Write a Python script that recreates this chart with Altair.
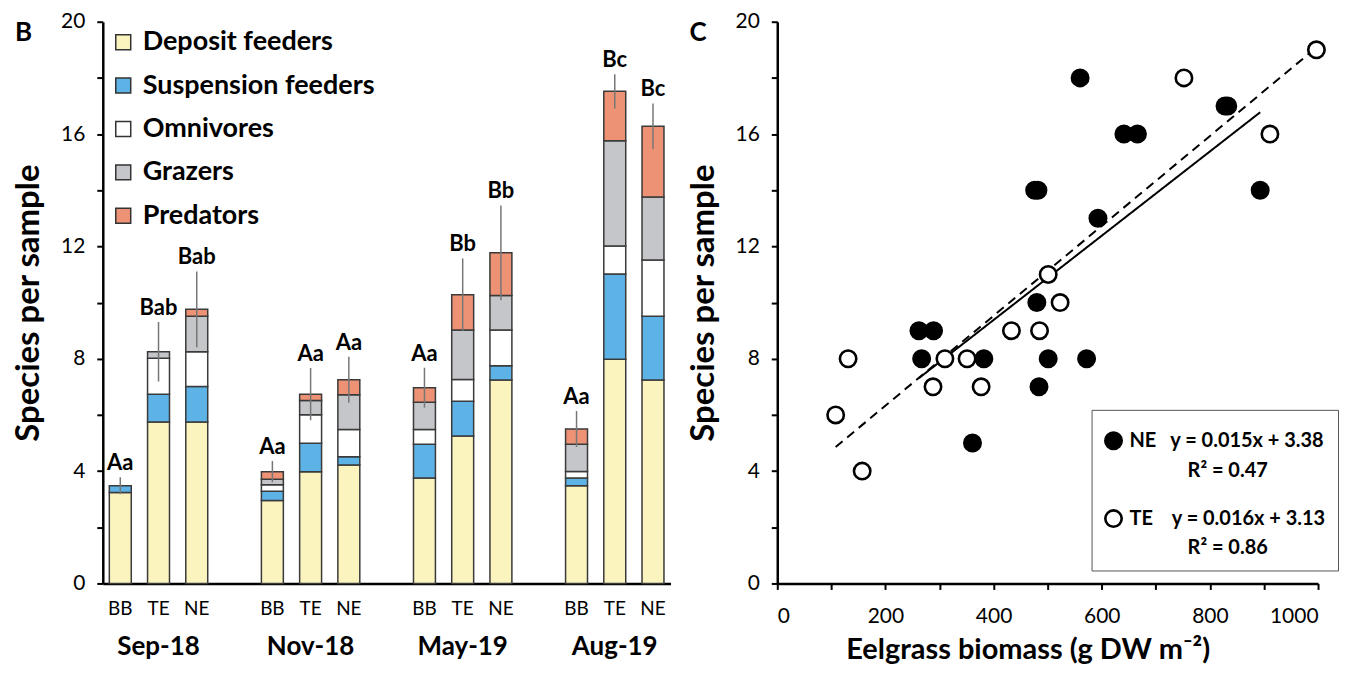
import altair as alt
import pandas as pd

FONT = "Lato"

# ---------------- Panel B data ----------------
months = ["Sep-18", "Nov-18", "May-19", "Aug-19"]
sites = ["BB", "TE", "NE"]
groups = ["Deposit feeders", "Suspension feeders", "Omnivores", "Grazers", "Predators"]
group_colors = ["#FCF4BE", "#5DB3E6", "#FFFFFF", "#C5C6CA", "#EE9275"]

# bars in order: Sep BB, Sep TE, Sep NE, Nov BB, ..., Aug NE
deposit =    [3.24, 5.75, 5.75, 2.95, 3.98, 4.22, 3.75, 5.25, 7.24, 3.48, 7.98, 7.24]
suspension = [0.24, 0.99, 1.26, 0.33, 1.01, 0.29, 1.21, 1.24, 0.51, 0.27, 3.04, 2.27]
omnivores =  [0.00, 1.28, 1.24, 0.23, 1.02, 0.97, 0.52, 0.77, 1.27, 0.24, 0.99, 2.01]
grazers =    [0.00, 0.23, 1.26, 0.20, 0.50, 1.24, 0.97, 1.76, 1.23, 0.97, 3.75, 2.24]
predators =  [0.00, 0.00, 0.25, 0.27, 0.23, 0.53, 0.52, 1.26, 1.52, 0.54, 1.76, 2.52]
errors =     [0.30, 1.06, 1.35, 0.38, 0.93, 0.82, 0.71, 1.29, 1.69, 0.64, 0.61, 0.81]
letters = ["Aa", "Bab", "Bab", "Aa", "Aa", "Aa", "Aa", "Bb", "Bb", "Aa", "Bc", "Bc"]

# ---------------- Panel C data ----------------
ne_biomass = [560, 641, 666, 476, 482, 593, 828, 833, 893, 480, 262, 289, 267, 382, 501, 572, 484, 361]
ne_species = [18, 16, 16, 14, 14, 13, 17, 17, 14, 10, 9, 9, 8, 8, 8, 8, 7, 5]
te_biomass = [997, 752, 911, 501, 523, 433, 485, 131, 310, 351, 288, 377, 108, 157]
te_species = [19, 18, 16, 11, 10, 9, 9, 8, 8, 8, 7, 7, 6, 4]
fit_sites = ["NE", "TE"]
fit_slopes = [0.015, 0.016]
fit_intercepts = [3.38, 3.13]
fit_r2 = ["0.47", "0.86"]

# ---------------- tables ----------------
series = [deposit, suspension, omnivores, grazers, predators]
bar_rows, tot_rows = [], []
for i in range(12):
    m, s = months[i // 3], sites[i % 3]
    total = 0.0
    for gi, (g, vals) in enumerate(zip(groups, series)):
        total += vals[i]
        if vals[i] > 0:
            bar_rows.append({"month": m, "site": s, "group": g, "ord": gi, "value": vals[i]})
    tot_rows.append({"month": m, "site": s, "lo": total - errors[i],
                     "hi": total + errors[i], "letter": letters[i]})
bars_df = pd.DataFrame(bar_rows)
tot_df = pd.DataFrame(tot_rows)

pts_df = pd.DataFrame({
    "site": ["NE"] * len(ne_biomass) + ["TE"] * len(te_biomass),
    "biomass": ne_biomass + te_biomass,
    "species": ne_species + te_species,
})
fits_df = pd.DataFrame({"site": fit_sites, "slope": fit_slopes, "intercept": fit_intercepts})

# ---------------- shared axis styling ----------------
axis_common = dict(labelFont=FONT, titleFont=FONT, labelColor="black", titleColor="black",
                   domainColor="black", tickColor="black", domainWidth=2.5, tickWidth=2, grid=False)
PLOT_H = 563
y_scale = alt.Scale(domain=[0, 20], nice=False)


def y_axis():
    return alt.Axis(values=list(range(0, 21, 2)),
                    labelExpr="datum.value % 4 == 0 ? datum.label : ''",
                    tickSize=6, labelFontSize=21, labelPadding=12,
                    title="Species per sample", titleFontSize=33, titleFontWeight="bold",
                    titlePadding=15, **axis_common)


# ---------------- Panel B ----------------
x_b = alt.X("month:N", sort=months,
            scale=alt.Scale(paddingInner=0.353, paddingOuter=0.043),
            axis=alt.Axis(title=None, ticks=False, labelAngle=0, labelFontSize=26,
                          labelFontWeight="bold", labelPadding=50, **axis_common))
xo_b = alt.XOffset("site:N", sort=sites, scale=alt.Scale(paddingInner=0.426, paddingOuter=0))

bars = alt.Chart(bars_df).mark_bar(stroke="#3a3a3a", strokeWidth=1.5).encode(
    x=x_b, xOffset=xo_b,
    y=alt.Y("value:Q", stack="zero", scale=y_scale, axis=y_axis()),
    color=alt.Color("group:N", sort=groups,
                    scale=alt.Scale(domain=groups, range=group_colors),
                    legend=alt.Legend(title=None, orient="none", legendX=7, legendY=7,
                                      symbolType="square", symbolSize=225,
                                      symbolStrokeColor="#333", symbolStrokeWidth=1.5,
                                      labelFont=FONT, labelFontSize=27, labelFontWeight="bold",
                                      labelColor="black", rowPadding=15.5, labelOffset=6,
                                      labelLimit=500)),
    order=alt.Order("ord:Q", sort="ascending"),
)
errbars = alt.Chart(tot_df).mark_rule(color="#777777", strokeWidth=1.5).encode(
    x=x_b, xOffset=xo_b, y=alt.Y("lo:Q", scale=y_scale), y2="hi:Q")
letter_txt = alt.Chart(tot_df).mark_text(font=FONT, fontSize=22, fontWeight="bold",
                                         baseline="bottom", dy=-2, color="black").encode(
    x=x_b, xOffset=xo_b, y=alt.Y("hi:Q", scale=y_scale), text="letter:N")
site_txt = alt.Chart(tot_df).mark_text(font=FONT, fontSize=19, baseline="middle", dy=26,
                                       color="black").encode(
    x=x_b, xOffset=xo_b, y=alt.datum(0), text="site:N")

panel_b = alt.layer(bars, errbars, letter_txt, site_txt).properties(
    width=569, height=PLOT_H,
    title=alt.TitleParams("B", anchor="start", frame="group", font=FONT, fontSize=26,
                          fontWeight="bold", dx=-88, dy=35, offset=0, color="black"))

# ---------------- Panel C ----------------
x_c = alt.X("biomass:Q", scale=alt.Scale(domain=[0, 1000], nice=False),
            axis=alt.Axis(values=list(range(0, 1001, 100)),
                          labelExpr="datum.value % 200 == 0 ? datum.label : ''",
                          format="d", tickSize=6, labelFontSize=21, labelPadding=16,
                          title="Eelgrass biomass (g DW m\u207b\u00b2)", titleFontSize=29,
                          titleFontWeight="bold", titlePadding=9, titleX=251, **axis_common))
y_c = alt.Y("species:Q", scale=y_scale, axis=y_axis())

nb = "\u00a0"
zw = "\u200b"
legend_expr = (
    "datum.label == 'NE' ? "
    f"['NE{nb*3}y = 0.015x + 3.38', '{zw}{nb*12}R\u00b2 = {fit_r2[0]}'] : "
    f"['TE{nb*4}y = 0.016x + 3.13', '{zw}{nb*12}R\u00b2 = {fit_r2[1]}']"
)

lines = alt.Chart(pts_df).transform_aggregate(
    xmin="min(biomass)", xmax="max(biomass)", groupby=["site"]
).transform_lookup(
    lookup="site", from_=alt.LookupData(fits_df, "site", ["slope", "intercept"])
).transform_fold(["xmin", "xmax"], as_=["end", "bx"]).transform_calculate(
    by="datum.slope * datum.bx + datum.intercept"
).mark_line(color="black", strokeWidth=2).encode(
    x=alt.X("bx:Q", scale=alt.Scale(domain=[0, 1000], nice=False)),
    y=alt.Y("by:Q", scale=y_scale),
    detail="site:N",
    strokeDash=alt.StrokeDash("site:N", scale=alt.Scale(domain=fit_sites, range=[[1, 0], [9, 6]]),
                              legend=None),
)

points = alt.Chart(pts_df).mark_point(filled=True, shape="circle", size=270, stroke="black",
                                      strokeWidth=2.6, opacity=1).encode(
    x=x_c, y=y_c,
    fill=alt.Fill("site:N", scale=alt.Scale(domain=fit_sites, range=["black", "white"]),
                  legend=alt.Legend(title="\u00a0", titleFontSize=9, titlePadding=0,
                                    titleFont=FONT, orient="none", legendX=315, legendY=389,
                                    strokeColor="#555", padding=12, fillColor="white",
                                    symbolType="circle", symbolSize=270,
                                    symbolStrokeColor="black", symbolStrokeWidth=2.6,
                                    labelFont=FONT, labelFontSize=20, labelFontWeight="bold",
                                    labelColor="black", labelExpr=legend_expr, rowPadding=24,
                                    labelLimit=400, labelBaseline="middle", labelOffset=6)),
)

panel_c = alt.layer(lines, points).properties(
    width=542, height=PLOT_H,
    title=alt.TitleParams("C", anchor="start", frame="group", font=FONT, fontSize=26,
                          fontWeight="bold", dx=-88, dy=35, offset=0, color="black"))


def build(config):
    return alt.hconcat(panel_b, panel_c, spacing=16).properties(
        padding={"left": 4, "top": 2, "right": 0, "bottom": 0}, background="white",
        config=config,
    ).resolve_scale(color="independent", fill="independent")


chart = None
for cfg in ({"view": {"stroke": None}, "style": {"guide-label": {"lineHeight": 30}}},
            {"view": {"stroke": None}}):
    try:
        c = build(cfg)
        c.to_dict()
        chart = c
        break
    except Exception:
        continue
if chart is None:
    chart = alt.hconcat(panel_b, panel_c, spacing=16).properties(
        padding={"left": 4, "top": 2, "right": 0, "bottom": 0}, background="white"
    ).configure_view(stroke=None).resolve_scale(color="independent", fill="independent")

chart.save("out.html", embed_options={"renderer": "svg", "actions": False})
